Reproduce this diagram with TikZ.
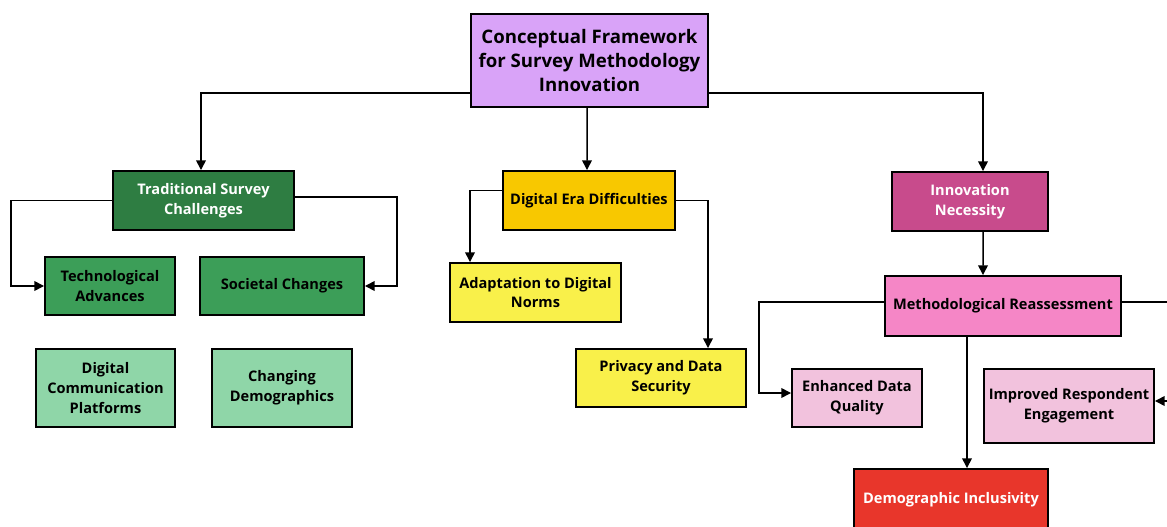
\documentclass[tikz,border=0pt]{standalone}
\usepackage{fontspec}
\setmainfont{Open Sans}
\usepackage{xcolor}
\usetikzlibrary{arrows.meta, positioning, calc}
\definecolor{rootfill}{HTML}{D9A3F8}
\definecolor{darkgreen}{HTML}{2E7D42}
\definecolor{midgreen}{HTML}{3C9E58}
\definecolor{lightgreen}{HTML}{8FD6A8}
\definecolor{gold}{HTML}{F8C800}
\definecolor{lemon}{HTML}{F9F04A}
\definecolor{magenta}{HTML}{C84B8C}
\definecolor{pinkfill}{HTML}{F586C6}
\definecolor{palepink}{HTML}{F2C2DD}
\definecolor{alarm}{HTML}{E8362B}

\begin{document}
\begin{tikzpicture}[
  x=0.02cm, y=-0.02cm,
  box/.style={draw=black, line width=1.1pt, align=center, inner sep=2pt,
    font=\bfseries\fontsize{8.3}{11.3}\selectfont},
  dims/.style 2 args={minimum width=#1*0.02cm, minimum height=#2*0.02cm},
  link/.style={line width=0.85pt, -{Triangle[length=5.5pt, width=5.5pt]}}
]
\clip (0,0) rectangle (1167,527);

% top
\node[box, dims={237}{93}, fill=rootfill, font=\bfseries\fontsize{10.6}{13.8}\selectfont]
  (root) at (589.5,60.5) {Conceptual Framework\\for Survey Methodology\\Innovation};

% traditional branch
\node[box, dims={181}{59}, fill=darkgreen, text=white] (trad) at (203.5,200.5) {Traditional Survey\\Challenges};
\node[box, dims={130}{58}, fill=midgreen] (tech) at (110,286) {Technological\\Advances};
\node[box, dims={164}{58}, fill=midgreen] (soc) at (282,286) {Societal Changes};
\node[box, dims={139}{78}, fill=lightgreen] (dcp) at (105.5,388) {Digital\\Communication\\Platforms};
\node[box, dims={140}{78}, fill=lightgreen] (chd) at (282,388) {Changing\\Demographics};

% digital era branch
\node[box, dims={172}{59}, fill=gold] (dig) at (589,200.5) {Digital Era Difficulties};
\node[box, dims={171}{59}, fill=lemon] (adapt) at (535.5,292.5) {Adaptation to Digital\\Norms};
\node[box, dims={170}{58}, fill=lemon] (priv) at (661,378) {Privacy and Data\\Security};

% innovation branch
\node[box, dims={156}{59}, fill=magenta, text=white] (innov) at (970,201.5) {Innovation\\Necessity};
\node[box, dims={236}{60}, fill=pinkfill] (meth) at (1003,306) {Methodological Reassessment};
\node[box, dims={130}{58}, fill=palepink] (enh) at (857,398) {Enhanced Data\\Quality};
\node[box, dims={170}{74}, fill=palepink] (impr) at (1069,406) {Improved Respondent\\Engagement};
\node[box, dims={194}{62}, fill=alarm, text=white] (demo) at (951,500) {Demographic Inclusivity};

% connectors
\draw[link] (root.west |- 0,93) -| ([xshift=-0.05cm]trad.north);
\draw[link] ([xshift=-0.05cm]root.south) -- ([xshift=-0.04cm]dig.north);
\draw[link] (root.east |- 0,93) -| ([xshift=0.26cm]innov.north);
\draw[link] (trad.west) -- ++(-101,0) |- (tech.west);
\draw[link] ([yshift=0.07cm]trad.east) -- ++(102,0) |- (soc.east);
\draw[link] ([yshift=0.2cm]dig.west) -| (470,0 |- adapt.north);
\draw[link] (dig.east) -| (708,0 |- priv.north);
\draw[link] ([xshift=0.26cm]innov.south) -- (983,0 |- meth.north);
\draw[link] ([yshift=0.08cm]meth.west) -- ++(-125,0) |- ([yshift=0.1cm]enh.west);
\draw[link] ([yshift=0.08cm]meth.east) -- ++(70,0) |- ([yshift=0.1cm]impr.east);
\draw[link] (967,0 |- meth.south) -- (967,0 |- demo.north);
\end{tikzpicture}
\end{document}
